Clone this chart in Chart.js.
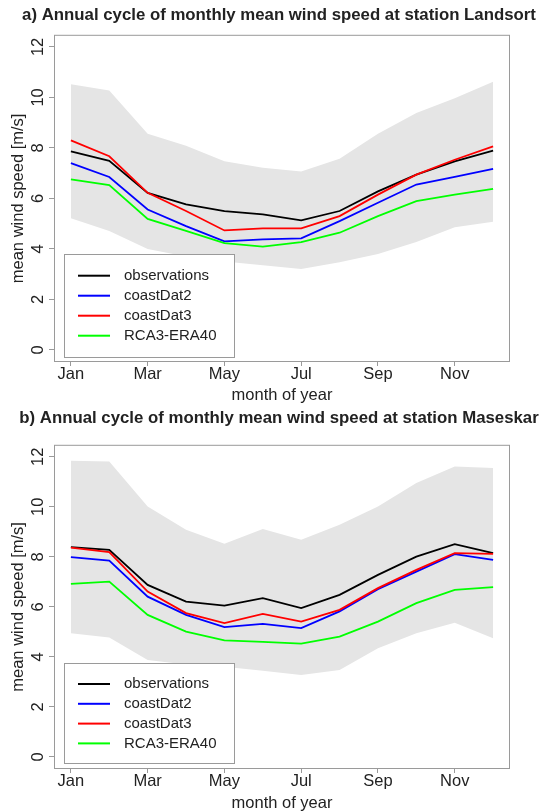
<!DOCTYPE html>
<html>
<head>
<meta charset="utf-8">
<script src="https://cdn.jsdelivr.net/npm/chart.js@4.4.1/dist/chart.umd.min.js"></script>
<style>
  html, body { margin: 0; padding: 0; background: #fff; }
  .panel { position: absolute; left: 0; width: 546px; height: 406px; }
  #panelA { top: 0; }
  #panelB { top: 406px; }
</style>
</head>
<body>
<div class="panel" id="panelA"><canvas id="chartA" width="546" height="406"></canvas></div>
<div class="panel" id="panelB"><canvas id="chartB" width="546" height="406"></canvas></div>
<script>
const months = [1, 2, 3, 4, 5, 6, 7, 8, 9, 10, 11, 12];
const monthTicks = [1, 3, 5, 7, 9, 11];
const monthNames = ['Jan', 'Mar', 'May', 'Jul', 'Sep', 'Nov'];
const speedTicks = [0, 2, 4, 6, 8, 10, 12];
const seriesNames = ['observations', 'coastDat2', 'coastDat3', 'RCA3-ERA40'];
const seriesColors = ['#000000', '#0000ff', '#ff0000', '#00ff00'];

// a) Landsort
const landsortObs   = [7.86, 7.49, 6.22, 5.76, 5.50, 5.37, 5.13, 5.50, 6.28, 6.94, 7.47, 7.89];
const landsortCD2   = [7.40, 6.85, 5.56, 4.90, 4.30, 4.38, 4.42, 5.10, 5.83, 6.55, 6.85, 7.17];
const landsortCD3   = [8.30, 7.67, 6.22, 5.50, 4.73, 4.81, 4.81, 5.30, 6.15, 6.94, 7.53, 8.06];
const landsortRCA   = [6.75, 6.53, 5.19, 4.71, 4.23, 4.09, 4.27, 4.64, 5.30, 5.89, 6.15, 6.38];
const landsortUpper = [10.52, 10.27, 8.56, 8.09, 7.47, 7.21, 7.07, 7.57, 8.56, 9.38, 9.97, 10.62];
const landsortLower = [5.21, 4.71, 4.00, 3.70, 3.50, 3.35, 3.20, 3.47, 3.80, 4.27, 4.86, 5.08];

// b) Maseskar
const maseskarObs   = [8.39, 8.28, 6.88, 6.21, 6.05, 6.35, 5.95, 6.48, 7.28, 8.01, 8.51, 8.15];
const maseskarCD2   = [7.99, 7.85, 6.41, 5.68, 5.19, 5.32, 5.15, 5.82, 6.71, 7.41, 8.11, 7.88];
const maseskarCD3   = [8.37, 8.19, 6.61, 5.75, 5.35, 5.72, 5.41, 5.88, 6.75, 7.48, 8.15, 8.12];
const maseskarRCA   = [6.92, 7.01, 5.68, 5.01, 4.66, 4.60, 4.53, 4.81, 5.41, 6.15, 6.68, 6.79];
const maseskarUpper = [11.84, 11.81, 10.01, 9.08, 8.52, 9.11, 8.68, 9.28, 10.01, 10.95, 11.61, 11.55];
const maseskarLower = [4.95, 4.78, 3.88, 3.70, 3.61, 3.45, 3.28, 3.48, 4.35, 4.95, 5.37, 4.75];

const ink = '#222222';
const frame = '#9a9a9a';
Chart.defaults.font.family = "'Liberation Sans', Arial, Helvetica, sans-serif";

// box round the plot region, like R's box()
const boxPlugin = {
  id: 'plotBox',
  afterDatasetsDraw(chart) {
    const a = chart.chartArea;
    const ctx = chart.ctx;
    ctx.save();
    ctx.strokeStyle = frame;
    ctx.lineWidth = 1;
    ctx.strokeRect(a.left + 0.5, a.top + 0.5, a.right - a.left - 1, a.bottom - a.top - 1);
    ctx.restore();
  }
};

// legend in the lower left corner of the plot
const legendPlugin = {
  id: 'boxLegend',
  afterDraw(chart, args, opts) {
    const a = chart.chartArea;
    const ctx = chart.ctx;
    const items = chart.data.datasets.filter(d => d.inLegend);
    const bottom = a.bottom - opts.gap;
    const top = bottom - opts.height;
    const left = a.left + 10;
    ctx.save();
    ctx.fillStyle = '#ffffff';
    ctx.fillRect(left, top, 170, opts.height);
    ctx.strokeStyle = frame;
    ctx.lineWidth = 1;
    ctx.strokeRect(left + 0.5, top + 0.5, 170, opts.height);
    ctx.font = "15px 'Liberation Sans', Arial, sans-serif";
    ctx.textBaseline = 'middle';
    ctx.textAlign = 'left';
    items.forEach((d, i) => {
      const y = top + opts.first + i * opts.step;
      ctx.strokeStyle = d.borderColor;
      ctx.lineWidth = 2;
      ctx.beginPath();
      ctx.moveTo(a.left + 24, y);
      ctx.lineTo(a.left + 56, y);
      ctx.stroke();
      ctx.fillStyle = ink;
      ctx.fillText(d.label, a.left + 70, y);
    });
    ctx.restore();
  }
};

function points(vals) {
  return months.map((m, i) => ({x: m, y: vals[i]}));
}

function buildChart(id, cfg) {
  const lines = [cfg.obs, cfg.cd2, cfg.cd3, cfg.rca].map((vals, i) => ({
    label: seriesNames[i],
    data: points(vals),
    borderColor: seriesColors[i],
    borderWidth: 1.8,
    pointRadius: 0,
    fill: false,
    order: 4 - i,
    inLegend: true
  }));
  const band = [
    {label: 'upper', data: points(cfg.upper), borderWidth: 0, pointRadius: 0,
     backgroundColor: '#e5e5e5', fill: '+1', order: 10},
    {label: 'lower', data: points(cfg.lower), borderWidth: 0, pointRadius: 0,
     fill: false, order: 10}
  ];
  return new Chart(document.getElementById(id), {
    type: 'line',
    data: {datasets: lines.concat(band)},
    options: {
      responsive: false,
      animation: false,
      devicePixelRatio: 1,
      layout: {padding: {left: 12, right: 0, top: 0, bottom: 0}},
      plugins: {
        legend: {display: false},
        tooltip: {enabled: false},
        title: {
          display: true,
          text: cfg.title,
          color: ink,
          font: {size: 16.8, weight: 'bold', lineHeight: 1},
          padding: cfg.titlePad
        },
        boxLegend: cfg.legend
      },
      scales: {
        x: {
          type: 'linear',
          min: 0.56,
          max: 12.44,
          afterBuildTicks: s => { s.ticks = monthTicks.map(v => ({value: v})); },
          afterFit: s => { s.height = cfg.xHeight; },
          ticks: {
            callback: (v, i) => monthNames[i],
            color: ink,
            font: {size: 16.5},
            padding: -1,
            maxRotation: 0,
            autoSkip: false
          },
          grid: {drawOnChartArea: false, drawTicks: true, tickLength: 4, tickColor: frame},
          border: {display: false},
          title: {
            display: true,
            text: 'month of year',
            color: ink,
            font: {size: 16.5, lineHeight: 1},
            padding: {top: 0, bottom: cfg.xTitlePad}
          }
        },
        y: {
          min: -0.48,
          max: 12.48,
          afterBuildTicks: s => { s.ticks = speedTicks.map(v => ({value: v})); },
          afterFit: s => { s.width = 42; },
          ticks: {
            callback: v => String(v),
            color: ink,
            font: {size: 16.5},
            minRotation: 90,
            maxRotation: 90,
            crossAlign: 'center',
            padding: 1.5
          },
          grid: {drawOnChartArea: false, drawTicks: true, tickLength: 5, tickColor: frame},
          border: {display: false},
          title: {
            display: true,
            text: 'mean wind speed [m/s]',
            color: ink,
            font: {size: 16.5, lineHeight: 1},
            padding: {top: -2.25, bottom: 0}
          }
        },
        // empty right margin
        yRight: {
          position: 'right',
          display: true,
          min: 0,
          max: 1,
          ticks: {display: false},
          grid: {display: false},
          border: {display: false},
          afterFit: s => { s.width = 36; }
        }
      }
    },
    plugins: [boxPlugin, legendPlugin]
  });
}

buildChart('chartA', {
  title: 'a) Annual cycle of monthly mean wind speed at station Landsort',
  titlePad: {top: 6.5, bottom: 11.5},
  xHeight: 44,
  xTitlePad: 2.75,
  legend: {gap: 5, height: 103, first: 21.7, step: 20},
  obs: landsortObs, cd2: landsortCD2, cd3: landsortCD3, rca: landsortRCA,
  upper: landsortUpper, lower: landsortLower
});

buildChart('chartB', {
  title: 'b) Annual cycle of monthly mean wind speed at station Maseskar',
  titlePad: {top: 3.5, bottom: 18.5},
  xHeight: 43,
  xTitlePad: 0.75,
  legend: {gap: 6, height: 100, first: 21, step: 19.8},
  obs: maseskarObs, cd2: maseskarCD2, cd3: maseskarCD3, rca: maseskarRCA,
  upper: maseskarUpper, lower: maseskarLower
});
</script>
</body>
</html>
